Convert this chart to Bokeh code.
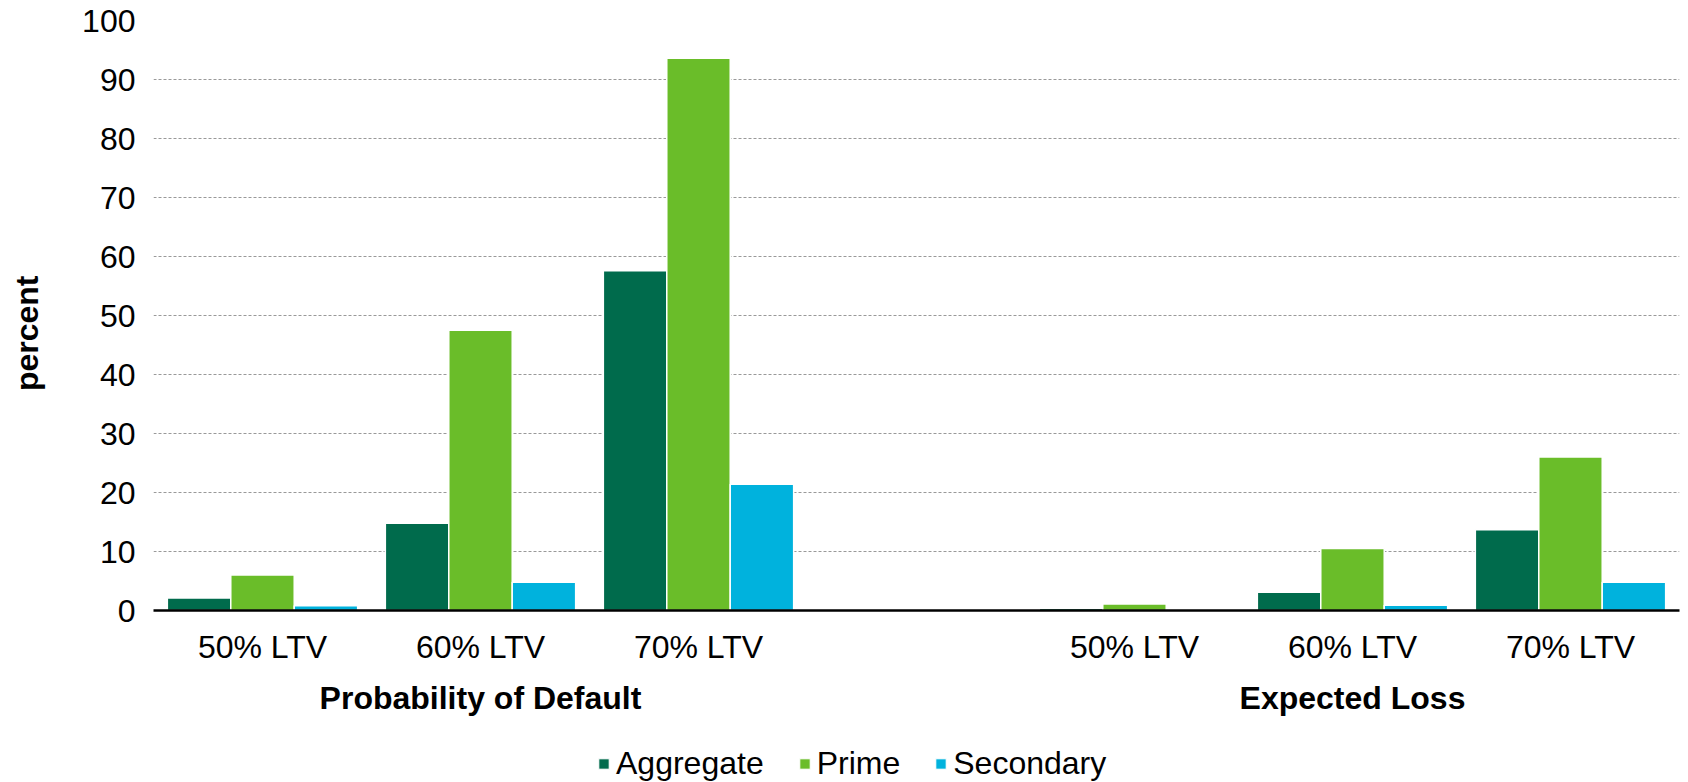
from bokeh.plotting import figure
from bokeh.layouts import column
from bokeh.models import FactorRange, ColumnDataSource, FixedTicker, Legend, LegendItem
from bokeh.transform import dodge
from bokeh.embed import file_html
from bokeh.resources import INLINE

# ---- data ----
groups = ["Probability of Default", "Expected Loss"]
ltv = ["50% LTV", "60% LTV", "70% LTV"]
series = ["Aggregate", "Prime", "Secondary"]
aggregate = [2.1, 14.8, 57.6, 0.4, 3.1, 13.7]
prime = [6.0, 47.5, 93.6, 1.1, 10.5, 26.0]
secondary = [0.8, 4.8, 21.4, 0.1, 0.9, 4.8]
y_ticks = [0, 10, 20, 30, 40, 50, 60, 70, 80, 90, 100]
colors = ["#006B4C", "#6ABD29", "#00B2DD"]

FONT = "Liberation Sans"

factors = [(g, c) for g in groups for c in ltv]
src = ColumnDataSource(dict(x=factors, Aggregate=aggregate, Prime=prime, Secondary=secondary))

p = figure(frame_width=1526, frame_height=590,
           x_range=FactorRange(*factors, group_padding=1.0, factor_padding=0.0, range_padding=0.0),
           y_range=(0, 100),
           output_backend="svg", toolbar_location=None,
           min_border_left=153, min_border_right=9, min_border_top=20, min_border_bottom=0)

bw = 0.291
offsets = [-bw, 0.0, bw]
for name, col, off in zip(series, colors, offsets):
    p.vbar(x=dodge("x", off, range=p.x_range), top=name, width=bw, source=src,
           fill_color=col, line_color="white", line_width=1.5)

p.outline_line_color = None
p.background_fill_color = "white"

# x axis
xa = p.xaxis[0]
xa.axis_line_color = "black"
xa.axis_line_width = 2.5
xa.major_tick_line_color = None
xa.minor_tick_line_color = None
xa.major_label_text_font = FONT
xa.major_label_text_font_size = "32px"
xa.major_label_text_color = "black"
xa.major_label_standoff = 12
xa.group_text_font = FONT
xa.group_text_font_size = "32px"
xa.group_text_font_style = "bold"
xa.group_text_color = "black"
xa.separator_line_color = None

# y axis
ya = p.yaxis[0]
ya.ticker = FixedTicker(ticks=y_ticks)
ya.axis_line_color = None
ya.major_tick_line_color = None
ya.minor_tick_line_color = None
ya.major_label_text_font = FONT
ya.major_label_text_font_size = "32px"
ya.major_label_text_color = "black"
ya.major_label_standoff = 12
ya.axis_label = "percent\u00a0\u00a0\u00a0\u00a0"
ya.axis_label_text_font = FONT
ya.axis_label_text_font_size = "32px"
ya.axis_label_text_font_style = "bold"
ya.axis_label_text_color = "black"
ya.axis_label_standoff = 34

p.xgrid.grid_line_color = None
p.ygrid.ticker = FixedTicker(ticks=y_ticks)
p.ygrid.grid_line_color = "#999999"
p.ygrid.grid_line_dash = "3 2"
p.ygrid.grid_line_width = 1

# ---- legend strip below the chart ----
lg = figure(width=1688, height=64, x_range=(0, 1), y_range=(0, 1),
            output_backend="svg", toolbar_location=None, min_border=0)
lg.axis.visible = False
lg.grid.grid_line_color = None
lg.outline_line_color = None
items = []
for name, col in zip(series, colors):
    r = lg.vbar(x=[0.5], top=[0], width=0.01, fill_color=col, line_color="white", line_width=1)
    items.append(LegendItem(label=name, renderers=[r]))

legend = Legend(items=items, orientation="horizontal", location=(444, 0),
                label_text_font=FONT, label_text_font_size="32px", label_text_color="black",
                glyph_width=13, glyph_height=13, label_standoff=6, spacing=34,
                border_line_color=None, background_fill_alpha=0, padding=0, margin=0)
lg.add_layout(legend, "center")

layout = column(p, lg, spacing=0)
open("out.html", "w").write(file_html(layout, INLINE))
